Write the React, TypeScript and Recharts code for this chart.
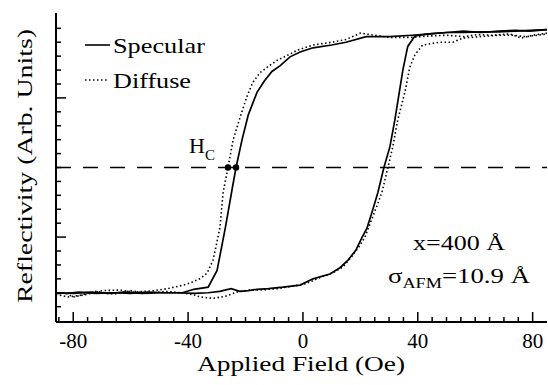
import {
  ComposedChart,
  Legend,
  Line,
  Scatter,
  XAxis,
  YAxis,
} from 'recharts';

// field in Oe, reflectivity in arbitrary units (major y ticks at 0 and 10)
const specularDownField = [85, 79, 74, 68, 62, 56, 50, 44, 38, 30, 22, 15, 10, 3.5, -1, -4.5, -8, -10.8, -13.5, -16, -19, -21.2, -23.3, -24.7, -27, -29.9, -33, -38, -42, -48, -54, -60, -66, -72, -78, -82, -86];
const specularDownR = [14.9, 14.85, 14.8, 14.75, 14.75, 14.7, 14.7, 14.6, 14.5, 14.4, 14.4, 14.0, 13.8, 13.6, 13.3, 12.95, 12.3, 11.9, 11.2, 10.4, 8.8, 7.0, 5.0, 3.4, 0.7, -2.4, -3.6, -3.75, -4.0, -4.0, -3.95, -4.05, -4.0, -4.05, -3.95, -4.05, -4.0];

const specularUpField = [-86, -80, -74, -68, -62, -56, -50, -44, -38, -33, -29, -25, -22, -19, -16, -12, -7, -1, 3.5, 9.4, 12.9, 15.7, 18.4, 20.5, 22.3, 24, 26.1, 28.2, 30.3, 32, 34.8, 36.5, 39, 44, 50, 56, 62, 68, 74, 79, 85];
const specularUpR = [-4.0, -4.05, -3.95, -4.05, -3.95, -4.05, -4.0, -4.0, -4.05, -4.0, -3.9, -3.7, -3.9, -3.85, -3.75, -3.7, -3.6, -3.45, -3.0, -2.65, -2.2, -1.65, -0.95, -0.05, 0.65, 1.75, 3.2, 5.0, 6.5, 8.4, 12.0, 13.7, 14.45, 14.6, 14.7, 14.8, 14.7, 14.8, 14.85, 14.8, 14.9];

const diffuseDownField = [85, 80, 76, 72, 66, 61, 56, 50, 44, 38, 30, 25, 20, 15, 10, 3.5, -1.7, -5, -9, -12.5, -15, -17.5, -19.5, -21.9, -24.3, -26.1, -27.8, -28.9, -30.2, -31.3, -33.4, -36, -39.3, -41.7, -47, -52, -59, -64, -70, -75, -80, -83, -86];
const diffuseDownR = [14.65, 14.5, 14.3, 14.6, 14.5, 14.55, 14.4, 14.5, 14.45, 14.35, 14.35, 14.5, 14.65, 14.2, 14.0, 13.8, 13.45, 13.1, 12.7, 12.2, 11.8, 11.1, 10.1, 8.6, 7.0, 5.0, 3.2, 0.7, -0.6, -1.65, -2.6, -3.0, -3.3, -3.45, -3.7, -3.85, -3.95, -3.8, -3.85, -4.1, -4.3, -4.0, -4.1];

const diffuseUpField = [-86, -82, -78, -72, -66, -60, -54, -48, -42, -38, -35.8, -31.3, -27, -23, -18.4, -14, -9, -4, 1, 6, 10, 13.9, 17, 19.5, 21.6, 24.3, 27.5, 29.6, 31.3, 33, 35.5, 37.2, 39, 41.7, 47.7, 52.2, 55.7, 61.6, 68, 73, 78, 85];
const diffuseUpR = [-4.1, -4.3, -4.2, -3.9, -4.1, -3.85, -4.05, -3.9, -4.0, -4.15, -4.3, -4.4, -4.25, -3.95, -3.8, -3.8, -3.7, -3.55, -3.35, -2.9, -2.6, -2.15, -1.4, -0.7, 0.0, 1.45, 3.2, 5.0, 6.5, 8.4, 10.4, 12.2, 13.1, 13.8, 14.0, 14.0, 14.3, 14.4, 14.5, 14.5, 14.4, 14.6];

const halfLevel = 5;
const coerciveFields = [-26.1, -23.3];
const fieldRange = [-86, 85];
const levelRange = [-6.1, 16.1];

const fieldTicks = Array.from({ length: 34 }, (_, i) => -85 + i * 5);
const levelTicks = Array.from({ length: 21 }, (_, i) => -5 + i);

const zip = (xs: number[], ys: number[]) => xs.map((x, i) => ({ x, y: ys[i] }));

const specularDown = zip(specularDownField, specularDownR);
const specularUp = zip(specularUpField, specularUpR);
const diffuseDown = zip(diffuseDownField, diffuseDownR);
const diffuseUp = zip(diffuseUpField, diffuseUpR);
const halfLine = fieldRange.map((x) => ({ x, y: halfLevel }));
const hcPoints = coerciveFields.map((x) => ({ x, y: halfLevel }));

const serif = { fontFamily: 'Liberation Serif, DejaVu Serif, Times New Roman, serif' };
const DOTS = '1.5 2.5';

function BottomTick({ x, y, payload }: any) {
  const major = payload.value % 40 === 0;
  return (
    <g>
      <line x1={x} x2={x} y1={y} y2={y - (major ? 10 : 5)} stroke="#000" strokeWidth={1.5} />
      {major && (
        <text x={x} y={y + 26} textAnchor="middle" style={serif} fontSize={21} fill="#000">
          {payload.value}
        </text>
      )}
    </g>
  );
}

function TopTick({ x, y, payload }: any) {
  const major = payload.value % 40 === 0;
  return <line x1={x} x2={x} y1={y} y2={y + (major ? 10 : 4)} stroke="#000" strokeWidth={1.5} />;
}

function LeftTick({ x, y, payload }: any) {
  const major = payload.value % 10 === 0;
  return <line x1={x} x2={x + (major ? 10 : 5)} y1={y} y2={y} stroke="#000" strokeWidth={1.5} />;
}

function RightTick({ x, y, payload }: any) {
  const major = payload.value % 10 === 0;
  return <line x1={x} x2={x - (major ? 10 : 5)} y1={y} y2={y} stroke="#000" strokeWidth={1.5} />;
}

function LegendBox() {
  return (
    <svg width={140} height={75} style={serif}>
      <line x1={5} x2={30} y1={25} y2={25} stroke="#000" strokeWidth={1.6} />
      <text x={33} y={33} style={serif} fontSize={22} fill="#000" textLength={92} lengthAdjust="spacingAndGlyphs">Specular</text>
      <line x1={5} x2={28} y1={60} y2={60} stroke="#000" strokeWidth={1.6} strokeDasharray={DOTS} />
      <text x={33} y={68} style={serif} fontSize={22} fill="#000" textLength={78} lengthAdjust="spacingAndGlyphs">Diffuse</text>
    </svg>
  );
}

export default function App() {
  return (
    <div style={{ position: 'absolute', left: 0, top: 0, width: 548, height: 385, background: '#fff', ...serif }}>
      <ComposedChart width={548} height={385} margin={{ top: 13, right: 1, bottom: 0, left: 0 }}>
        <XAxis
          xAxisId="bottom"
          type="number"
          dataKey="x"
          domain={fieldRange}
          ticks={fieldTicks}
          interval={0}
          allowDataOverflow
          height={63}
          tickSize={0}
          tickMargin={0}
          tickLine={false}
          axisLine={{ stroke: '#000', strokeWidth: 2 }}
          tick={<BottomTick />}
        />
        <XAxis
          xAxisId="top"
          orientation="top"
          type="number"
          dataKey="x"
          domain={fieldRange}
          ticks={fieldTicks}
          interval={0}
          allowDataOverflow
          height={0}
          tickSize={0}
          tickMargin={0}
          tickLine={false}
          axisLine={{ stroke: '#000', strokeWidth: 2 }}
          tick={<TopTick />}
        />
        <YAxis
          yAxisId="left"
          type="number"
          domain={levelRange}
          ticks={levelTicks}
          interval={0}
          allowDataOverflow
          width={56}
          tickSize={0}
          tickMargin={0}
          tickLine={false}
          axisLine={{ stroke: '#000', strokeWidth: 2 }}
          tick={<LeftTick />}
        />
        <YAxis
          yAxisId="right"
          orientation="right"
          type="number"
          domain={levelRange}
          ticks={levelTicks}
          interval={0}
          allowDataOverflow
          width={0}
          tickSize={0}
          tickMargin={0}
          tickLine={false}
          axisLine={{ stroke: '#000', strokeWidth: 2 }}
          tick={<RightTick />}
        />
        <Legend
          layout="vertical"
          align="center"
          verticalAlign="middle"
          wrapperStyle={{ left: 80, top: 20, width: 140 }}
          content={() => <LegendBox />}
        />
        <Line xAxisId="top" yAxisId="right" data={halfLine} dataKey="y" stroke="#000" strokeWidth={1.5} strokeDasharray="15 12" dot={false} isAnimationActive={false} legendType="none" />
        <Line xAxisId="bottom" yAxisId="left" data={specularDown} dataKey="y" type="linear" stroke="#000" strokeWidth={1.7} dot={false} isAnimationActive={false} name="Specular" />
        <Line xAxisId="bottom" yAxisId="left" data={specularUp} dataKey="y" type="linear" stroke="#000" strokeWidth={1.7} dot={false} isAnimationActive={false} legendType="none" />
        <Line xAxisId="bottom" yAxisId="left" data={diffuseDown} dataKey="y" type="linear" stroke="#000" strokeWidth={1.6} strokeDasharray={DOTS} dot={false} isAnimationActive={false} name="Diffuse" />
        <Line xAxisId="bottom" yAxisId="left" data={diffuseUp} dataKey="y" type="linear" stroke="#000" strokeWidth={1.6} strokeDasharray={DOTS} dot={false} isAnimationActive={false} legendType="none" />
        <Scatter
          xAxisId="bottom"
          yAxisId="left"
          data={hcPoints}
          dataKey="y"
          isAnimationActive={false}
          shape={(p: any) => <circle cx={p.cx} cy={p.cy} r={3.2} fill="#000" />}
        />
      </ComposedChart>
      <svg width={548} height={385} style={{ position: 'absolute', left: 0, top: 0, pointerEvents: 'none', ...serif }}>
        <g fill="#000">
          <text transform="translate(32,166) rotate(-90)" textAnchor="middle" style={serif} fontSize={22} textLength={274} lengthAdjust="spacingAndGlyphs">
            Reflectivity (Arb. Units)
          </text>
          <text x={301} y={371} textAnchor="middle" style={serif} fontSize={22} textLength={208} lengthAdjust="spacingAndGlyphs">Applied Field (Oe)</text>
          <text x={189} y={153} style={serif} fontSize={22}>
            H<tspan fontSize={15} dy={7}>C</tspan>
          </text>
          <text x={459} y={250} textAnchor="middle" style={serif} fontSize={22} textLength={92} lengthAdjust="spacingAndGlyphs">x=400 Å</text>
          <text x={459} y={283} textAnchor="middle" style={serif} fontSize={22} textLength={142} lengthAdjust="spacingAndGlyphs">
            σ<tspan fontSize={15} dy={5}>AFM</tspan><tspan dy={-5}>=10.9 Å</tspan>
          </text>
        </g>
      </svg>
    </div>
  );
}
